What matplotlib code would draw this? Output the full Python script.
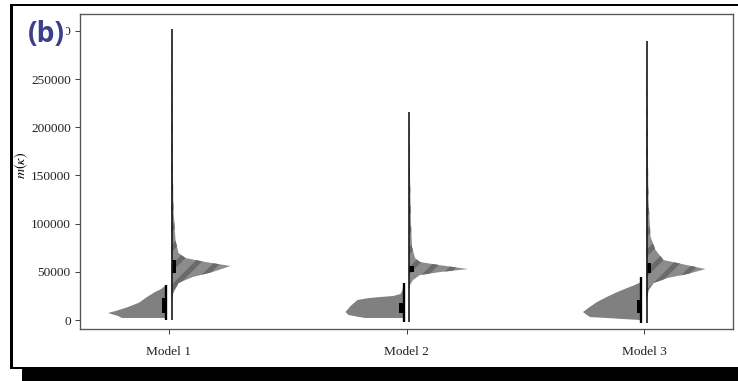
from matplotlib import pyplot as plt
from matplotlib.patches import Rectangle
import matplotlib as mpl

mpl.rcParams['font.family'] = ['Liberation Serif', 'DejaVu Serif']
mpl.rcParams['mathtext.fontset'] = 'stix'
mpl.rcParams['hatch.linewidth'] = 3.0

_DPI = 120
_OUT = 'out.png'

models = ['Model 1', 'Model 2', 'Model 3']

# lower half-violins (left side), value -> half width in pixels
low_values = [
    [36300, 32000, 29100, 23900, 18000, 13500, 9500, 7300, 4200, 2100],
    [36300, 31100, 27000, 25000, 23900, 22800, 20800, 14500, 8300, 5200, 3100, 2100],
    [39400, 36000, 33200, 28000, 23000, 18700, 13000, 8300, 5200, 3100, 2100, 1000, 0],
]
low_widths = [
    [0, 5, 11, 19, 27, 38, 50, 58, 48, 44],
    [0, 1, 3, 10, 23, 35, 46, 53, 58, 55, 44, 38],
    [0, 7, 14, 26, 36, 44, 52, 58, 54, 51, 34, 17, 0],
]

# upper half-violins (right side, striped)
high_values = [
    [302000, 250000, 176000, 114000, 83000, 69600, 64400, 60200, 56100, 49800, 44600, 38400, 28000, 20800],
    [216000, 150000, 100000, 75800, 64400, 60200, 57100, 52900, 49800, 46700, 41500, 36300, 31100],
    [289600, 200000, 124600, 86200, 72700, 62300, 57100, 52900, 47800, 43600, 38400, 31100, 23900, 18700],
]
high_widths = [
    [0, 0.5, 1, 2, 4, 7, 14, 34, 59, 41, 21, 7, 2, 0],
    [0, 1, 2, 3, 6, 11, 30, 59, 31, 11, 4, 1, 0],
    [0, 1, 2, 4, 9, 17, 40, 59, 41, 21, 7, 2, 1, 0],
]

# interquartile boxes and whisker ranges
low_box = [(7300, 22800), (7300, 17600), (7300, 20800)]
high_box = [(49000, 62000), (49800, 56000), (48800, 59200)]
low_whisker = [(0, 36300), (-2000, 38400), (-3000, 44600)]
high_whisker = [(0, 302000), (-2000, 216000), (-3000, 289600)]

y_ticks = [0, 50000, 100000, 150000, 200000, 250000, 300000]

PX_PER_UNIT = 237.5
LOW_OFFSET = -3 / PX_PER_UNIT
HIGH_OFFSET = 2.5 / PX_PER_UNIT
BOX_W = 4.5 / PX_PER_UNIT


def px(w):
    return [v / PX_PER_UNIT for v in w]


def draw_frame(fig):
    W, H = 738.0, 381.0
    # top rule, left rule, bottom rule and the drop shadow of the panel box
    fig.add_artist(Rectangle((10 / W, 1 - 6 / H), 1, 2.5 / H, transform=fig.transFigure,
                             color='black', lw=0))
    fig.add_artist(Rectangle((10 / W, 1 - 369 / H), 2.5 / W, 365 / H, transform=fig.transFigure,
                             color='black', lw=0))
    fig.add_artist(Rectangle((10 / W, 1 - 369 / H), 15 / W, 2.5 / H, transform=fig.transFigure,
                             color='black', lw=0))
    fig.add_artist(Rectangle((22 / W, 0), 1, 1 - 367 / H, transform=fig.transFigure,
                             color='black', lw=0))


def plot_split_violins():
    fig = plt.figure(figsize=(738 / _DPI, 381 / _DPI), dpi=_DPI)
    ax = fig.add_axes([80 / 738, 52 / 381, 653 / 738, 315 / 381])

    for ii, name in enumerate(models):
        pos = ii + 1
        lc = pos + LOW_OFFSET
        hc = pos + HIGH_OFFSET

        lw = px(low_widths[ii])
        ax.fill_betweenx(low_values[ii], [lc - w for w in lw], lc,
                         facecolor='#808080', edgecolor='none', lw=0)

        hw = px(high_widths[ii])
        ax.fill_betweenx(high_values[ii], hc, [hc + w for w in hw],
                         facecolor='#8c8c8c', edgecolor='#6a6a6a', lw=0, hatch='//')

        ax.plot([lc, lc], low_whisker[ii], color='black', lw=1.4, solid_capstyle='butt')
        ax.plot([hc, hc], high_whisker[ii], color='#1a1a1a', lw=1.0, solid_capstyle='butt')

        b0, b1 = low_box[ii]
        ax.add_patch(Rectangle((lc - BOX_W, b0), BOX_W, b1 - b0, color='black', lw=0))
        b0, b1 = high_box[ii]
        ax.add_patch(Rectangle((hc, b0), BOX_W, b1 - b0, color='black', lw=0))

    ax.set_xlim(1 - 89 / PX_PER_UNIT, 3 + 89 / PX_PER_UNIT)
    ax.set_ylim(-9300, 317600)
    ax.set_xticks([1, 2, 3])
    ax.set_xticklabels(models)
    ax.set_yticks(y_ticks)
    ax.set_yticklabels([str(v) for v in y_ticks])
    ax.tick_params(labelsize=8, colors='#222222', length=3, width=0.6, pad=2.5)
    ax.tick_params(axis='x', pad=7)
    ax.tick_params(axis='both', color='#444444')
    for s in ax.spines.values():
        s.set_color('#555555')
        s.set_linewidth(0.8)
    ax.set_ylabel(r'$m(\kappa)$', fontsize=8.5)
    ax.yaxis.set_label_coords(-0.076, 0.52)

    fig.text(28 / 738, 1 - 34 / 381, '(b)', family=['Open Sans', 'DejaVu Sans'],
             fontweight='bold', fontsize=17, color='#3b3f8c', va='center', ha='left',
             bbox=dict(facecolor='white', edgecolor='none', pad=0.8))
    draw_frame(fig)

    fig.savefig(_OUT, dpi=_DPI, facecolor='white')


if __name__ == '__main__':
    plot_split_violins()
